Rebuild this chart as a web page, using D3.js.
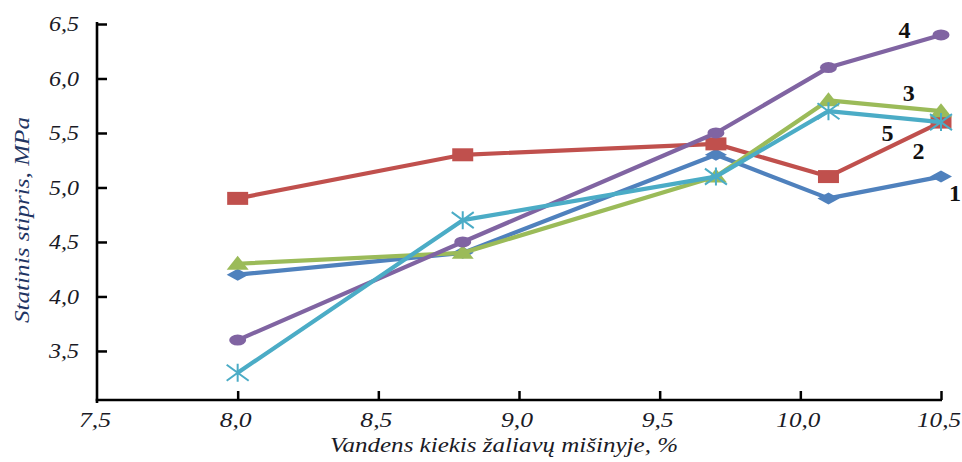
<!DOCTYPE html>
<html><head><meta charset="utf-8">
<script src="https://cdn.jsdelivr.net/npm/d3@7"></script>
<style>
html,body{margin:0;padding:0;background:#fff;}
svg{display:block;}
</style></head>
<body>
<svg id="chart" width="962" height="462" font-family="'Liberation Serif', Tinos, 'Times New Roman', Times, serif"></svg>
<script>
const xValues = [8.0, 8.8, 9.7, 10.1, 10.5];
const series1 = [4.2, 4.4, 5.3, 4.9, 5.1];
const series2 = [4.9, 5.3, 5.4, 5.1, 5.6];
const series3 = [4.3, 4.4, 5.1, 5.8, 5.7];
const series4 = [3.6, 4.5, 5.5, 6.1, 6.4];
const series5 = [3.3, 4.7, 5.1, 5.7, 5.6];
const seriesNames = ["1", "2", "3", "4", "5"];
const xTicks = [7.5, 8.0, 8.5, 9.0, 9.5, 10.0, 10.5];
const xTickLabels = ["7,5", "8,0", "8,5", "9,0", "9,5", "10,0", "10,5"];
const yTicks = [3.5, 4.0, 4.5, 5.0, 5.5, 6.0, 6.5];
const yTickLabels = ["3,5", "4,0", "4,5", "5,0", "5,5", "6,0", "6,5"];
const xTitle = "Vandens kiekis žaliavų mišinyje, %";
const yTitle = "Statinis stipris, MPa";

const colors = ["#4F81BD", "#C0504D", "#9BBB59", "#8064A2", "#4BACC6"];
const markers = ["diamond", "square", "triangle", "circle", "star"];
// label anchor points (data coordinates)
const labelPos = [[10.55, 4.95], [10.42, 5.34], [10.385, 5.87], [10.37, 6.45], [10.31, 5.5]];

const svg = d3.select("#chart");
const x = d3.scaleLinear().domain([7.5, 10.5]).range([97, 941]);
const y = d3.scaleLinear().domain([3.05, 6.5]).range([400, 24]);

const allSeries = [series1, series2, series3, series4, series5];
const textColor = "#1a1a26";

// axes
const yAxis = svg.append("g").attr("transform", "translate(97,0)")
  .call(d3.axisRight(y).tickValues(yTicks).tickSize(10).tickFormat(""));
yAxis.select(".domain").remove();
yAxis.selectAll(".tick line").attr("stroke", "#000").attr("stroke-width", 2.5);
const xAxis = svg.append("g").attr("transform", "translate(0,400)")
  .call(d3.axisTop(x).tickValues(xTicks.slice(1)).tickSize(9).tickFormat(""));
xAxis.select(".domain").remove();
xAxis.selectAll(".tick line").attr("stroke", "#000").attr("stroke-width", 2.5);

svg.append("line").attr("x1", 97).attr("x2", 97).attr("y1", y(6.5) - 2).attr("y2", 403)
  .attr("stroke", "#000").attr("stroke-width", 2.6);
svg.append("line").attr("x1", 95.7).attr("x2", x(10.5) + 1).attr("y1", 400).attr("y2", 400)
  .attr("stroke", "#000").attr("stroke-width", 2.6);

// tick labels
svg.append("g").selectAll("text").data(yTicks).join("text")
  .attr("x", 79).attr("y", d => y(d)).attr("dy", "0.33em")
  .attr("text-anchor", "end").attr("font-size", 22).attr("font-style", "italic")
  .attr("fill", textColor).text((d, i) => yTickLabels[i])
  .attr("textLength", 30).attr("lengthAdjust", "spacingAndGlyphs");

svg.append("g").selectAll("text").data(xTicks).join("text")
  .attr("x", d => x(d) - 2).attr("y", 427)
  .attr("text-anchor", "middle").attr("font-size", 22).attr("font-style", "italic")
  .attr("fill", textColor).text((d, i) => xTickLabels[i])
  .attr("textLength", (d, i) => xTickLabels[i].length > 3 ? 44 : 32)
  .attr("lengthAdjust", "spacingAndGlyphs");

// titles
svg.append("text").attr("x", 504).attr("y", 452).attr("text-anchor", "middle")
  .attr("font-size", 22).attr("font-style", "italic").attr("fill", textColor)
  .attr("textLength", 348).attr("lengthAdjust", "spacingAndGlyphs").text(xTitle);
svg.append("text").attr("transform", "translate(29,220) rotate(-90)").attr("text-anchor", "middle")
  .attr("font-size", 22).attr("font-style", "italic").attr("fill", "#1f3563")
  .attr("textLength", 206).attr("lengthAdjust", "spacingAndGlyphs").text(yTitle);

// series
const line = d3.line().x(d => x(d[0])).y(d => y(d[1]));
function markerPath(type) {
  switch (type) {
    case "diamond": return "M0,-6L11,0L0,6L-11,0Z";
    case "square": return "M-10.5,-6.5H10.5V6.5H-10.5Z";
    case "triangle": return "M0,-8L11,6L-11,6Z";
    case "circle": return "M-8.5,0A8.5,5.5 0 1,0 8.5,0A8.5,5.5 0 1,0 -8.5,0Z";
    case "star": return "M-11,-8L11,8M-11,8L11,-8M0,-9V9";
  }
}
allSeries.forEach((vals, si) => {
  const pts = xValues.map((xv, i) => [xv, vals[i]]);
  const g = svg.append("g");
  g.append("path").datum(pts).attr("d", line).attr("fill", "none")
    .attr("stroke", colors[si]).attr("stroke-width", 4.2).attr("stroke-linejoin", "round");
  g.selectAll("path.m").data(pts).join("path").attr("class", "m")
    .attr("transform", d => `translate(${x(d[0])},${y(d[1])})`)
    .attr("d", markerPath(markers[si]))
    .attr("fill", markers[si] === "star" ? "none" : colors[si])
    .attr("stroke", colors[si])
    .attr("stroke-width", markers[si] === "star" ? 2 : 0);
});

// series number labels
svg.append("g").selectAll("text").data(seriesNames).join("text")
  .attr("x", (d, i) => x(labelPos[i][0])).attr("y", (d, i) => y(labelPos[i][1]))
  .attr("dy", "0.35em").attr("text-anchor", "middle")
  .attr("font-size", 24).attr("font-weight", "bold").attr("fill", "#111")
  .text(d => d);
</script>
</body></html>
